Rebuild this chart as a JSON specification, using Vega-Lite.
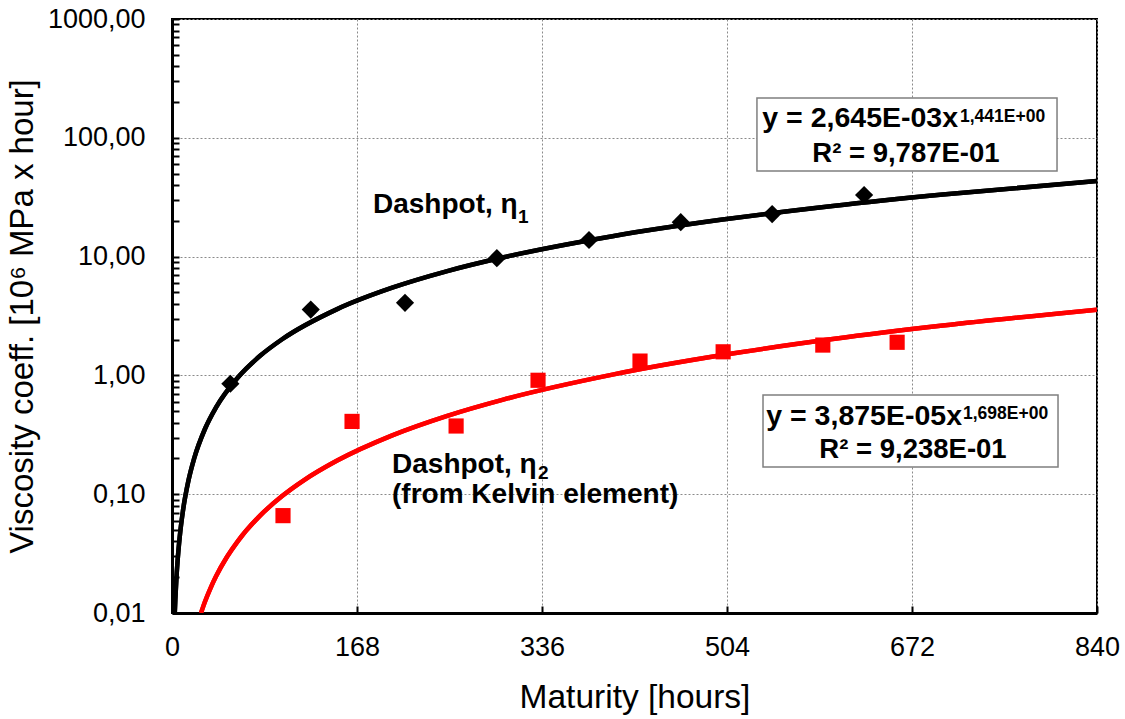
{
  "$schema": "https://vega.github.io/schema/vega-lite/v6.json",
  "autosize": "none",
  "width": 925,
  "height": 594,
  "padding": {"left": 172, "top": 19, "right": 28, "bottom": 106},
  "background": "white",
  "config": {
    "font": "Liberation Sans",
    "view": {"stroke": "black", "strokeWidth": 2},
    "axis": {"labelColor": "black", "titleColor": "black", "labelFont": "Liberation Sans", "titleFont": "Liberation Sans",
      "grid": true, "gridColor": "#8a8a8a", "gridDash": [2, 2], "gridWidth": 1, "ticks": true, "tickSize": -7, "tickWidth": 2, "tickColor": "black",
      "domain": true, "domainColor": "black", "domainWidth": 3, "labelFontSize": 27, "titleFontWeight": "normal", "labelOverlap": false, "labelBound": false},
    "axisX": {"labelPadding": 28, "labelFlush": false, "titleFontSize": 33.5, "titlePadding": 21},
    "axisY": {"labelPadding": 34, "titleFontSize": 33, "titlePadding": 8}
  },
  "datasets": {
    "eta1pts": [
      {"x": 53, "y": 0.85}, {"x": 126, "y": 3.58}, {"x": 211.6, "y": 4.08}, {"x": 295, "y": 9.7},
      {"x": 378.7, "y": 13.8}, {"x": 462, "y": 19.5}, {"x": 545, "y": 22.8}, {"x": 628.5, "y": 33}
    ],
    "eta2pts": [
      {"x": 100.8, "y": 0.066}, {"x": 163.5, "y": 0.41}, {"x": 258, "y": 0.375}, {"x": 332.4, "y": 0.91},
      {"x": 425, "y": 1.32}, {"x": 500.5, "y": 1.58}, {"x": 591, "y": 1.8}, {"x": 658.5, "y": 1.9}
    ],
    "fit": [
      {"s": "eta1", "x": 2.52, "y": 0.01}, {"s": "eta1", "x": 3, "y": 0.01288}, {"s": "eta1", "x": 4, "y": 0.0195},
      {"s": "eta1", "x": 5, "y": 0.0269}, {"s": "eta1", "x": 7, "y": 0.04367}, {"s": "eta1", "x": 10, "y": 0.07302},
      {"s": "eta1", "x": 15, "y": 0.131}, {"s": "eta1", "x": 20, "y": 0.1983}, {"s": "eta1", "x": 30, "y": 0.3556},
      {"s": "eta1", "x": 40, "y": 0.5383}, {"s": "eta1", "x": 60, "y": 0.9655}, {"s": "eta1", "x": 80, "y": 1.4617},
      {"s": "eta1", "x": 100, "y": 2.0157}, {"s": "eta1", "x": 150, "y": 3.615}, {"s": "eta1", "x": 200, "y": 5.472},
      {"s": "eta1", "x": 250, "y": 7.548}, {"s": "eta1", "x": 300, "y": 9.817}, {"s": "eta1", "x": 400, "y": 14.86},
      {"s": "eta1", "x": 500, "y": 20.49}, {"s": "eta1", "x": 600, "y": 26.66}, {"s": "eta1", "x": 700, "y": 33.28},
      {"s": "eta1", "x": 840, "y": 43.28},
      {"s": "eta2", "x": 26.33, "y": 0.01}, {"s": "eta2", "x": 28, "y": 0.0111}, {"s": "eta2", "x": 30, "y": 0.01249},
      {"s": "eta2", "x": 35, "y": 0.01622}, {"s": "eta2", "x": 40, "y": 0.02035}, {"s": "eta2", "x": 50, "y": 0.02972},
      {"s": "eta2", "x": 60, "y": 0.04051}, {"s": "eta2", "x": 80, "y": 0.06603}, {"s": "eta2", "x": 100, "y": 0.09644},
      {"s": "eta2", "x": 120, "y": 0.1315}, {"s": "eta2", "x": 150, "y": 0.192}, {"s": "eta2", "x": 200, "y": 0.313},
      {"s": "eta2", "x": 250, "y": 0.4571}, {"s": "eta2", "x": 300, "y": 0.623}, {"s": "eta2", "x": 400, "y": 1.0153},
      {"s": "eta2", "x": 500, "y": 1.4829}, {"s": "eta2", "x": 600, "y": 2.021}, {"s": "eta2", "x": 700, "y": 2.626},
      {"s": "eta2", "x": 840, "y": 3.578}
    ],
    "boxes": [
      {"x": 531.2, "x2": 803.7, "y": 216.3, "y2": 52.55},
      {"x": 536.7, "x2": 804.6, "y": 0.684, "y2": 0.1694}
    ],
    "leftLabels": [
      {"t": "Dashpot, η", "x": 182.5, "y": 23.28},
      {"t": "Dashpot, η", "x": 199.8, "y": 0.1509},
      {"t": "(from Kelvin element)", "x": 199.8, "y": 0.0843}
    ],
    "subs": [
      {"t": "1", "x": 314.2, "y": 19.29},
      {"t": "2", "x": 332.4, "y": 0.1343}
    ],
    "eqMain": [
      {"t": "y = 2,645E-03x", "x": 713.8, "y": 123.3},
      {"t": "y = 3,875E-05x", "x": 717.4, "y": 0.3824}
    ],
    "eqSup": [
      {"t": "1,441E+00", "x": 715.6, "y": 135.8},
      {"t": "1,698E+00", "x": 718.3, "y": 0.4295}
    ],
    "r2": [
      {"t": "R² = 9,787E-01", "x": 666.5, "y": 62.57},
      {"t": "R² = 9,238E-01", "x": 672.9, "y": 0.2018}
    ]
  },
  "layer": [
    {
      "data": {"name": "fit"},
      "mark": {"type": "line", "strokeWidth": 4.5, "interpolate": "monotone", "clip": true},
      "encoding": {
        "x": {"field": "x", "type": "quantitative", "scale": {"domain": [0, 840], "nice": false, "zero": false}, "title": "Maturity [hours]",
          "axis": {"values": [0, 168, 336, 504, 672, 840], "labelOverlap": false}},
        "y": {"field": "y", "type": "quantitative", "scale": {"type": "log", "domain": [0.01, 1000], "nice": false}, "title": "Viscosity coeff. [10⁶ MPa x hour]",
          "axis": {"values": [0.01, 0.02, 0.03, 0.04, 0.05, 0.06, 0.07, 0.08, 0.09, 0.1, 0.2, 0.3, 0.4, 0.5, 0.6, 0.7, 0.8, 0.9, 1, 2, 3, 4, 5, 6, 7, 8, 9, 10, 20, 30, 40, 50, 60, 70, 80, 90, 100, 200, 300, 400, 500, 600, 700, 800, 900, 1000],
            "labelOverlap": false,
            "labelExpr": "abs(log(datum.value) / LN10 - round(log(datum.value) / LN10)) < 0.000001 ? replace(format(datum.value, '.2f'), '.', ',') : ''",
            "gridOpacity": {"condition": {"test": "abs(log(datum.value) / LN10 - round(log(datum.value) / LN10)) < 0.000001", "value": 1}, "value": 0}}},
        "color": {"field": "s", "type": "nominal", "scale": {"domain": ["eta1", "eta2"], "range": ["#000000", "#ff0000"]}, "legend": null}
      }
    },
    {
      "data": {"name": "boxes"},
      "mark": {"type": "rect", "fill": "white", "stroke": "#7f7f7f", "strokeWidth": 1.5},
      "encoding": {
        "x": {"field": "x", "type": "quantitative"},
        "x2": {"field": "x2"},
        "y": {"field": "y", "type": "quantitative"},
        "y2": {"field": "y2"}
      }
    },
    {
      "data": {"name": "fit"},
      "mark": {"type": "line", "strokeWidth": 4.5, "interpolate": "monotone", "clip": true},
      "encoding": {
        "x": {"field": "x", "type": "quantitative"},
        "y": {"field": "y", "type": "quantitative"},
        "color": {"field": "s", "type": "nominal", "legend": null}
      }
    },
    {
      "data": {"name": "eta1pts"},
      "mark": {"type": "point", "shape": "diamond", "filled": true, "color": "black", "size": 330, "opacity": 1},
      "encoding": {
        "x": {"field": "x", "type": "quantitative"},
        "y": {"field": "y", "type": "quantitative"}
      }
    },
    {
      "data": {"name": "eta2pts"},
      "mark": {"type": "point", "shape": "square", "filled": true, "color": "#ff0000", "size": 230, "opacity": 1},
      "encoding": {
        "x": {"field": "x", "type": "quantitative"},
        "y": {"field": "y", "type": "quantitative"}
      }
    },
    {
      "data": {"name": "leftLabels"},
      "mark": {"type": "text", "align": "left", "baseline": "alphabetic", "fontSize": 28, "fontWeight": "bold", "color": "black"},
      "encoding": {
        "x": {"field": "x", "type": "quantitative"},
        "y": {"field": "y", "type": "quantitative"},
        "text": {"field": "t"}
      }
    },
    {
      "data": {"name": "subs"},
      "mark": {"type": "text", "align": "left", "baseline": "alphabetic", "fontSize": 19, "fontWeight": "bold", "color": "black"},
      "encoding": {
        "x": {"field": "x", "type": "quantitative"},
        "y": {"field": "y", "type": "quantitative"},
        "text": {"field": "t"}
      }
    },
    {
      "data": {"name": "eqMain"},
      "mark": {"type": "text", "align": "right", "baseline": "alphabetic", "fontSize": 28.5, "fontWeight": "bold", "color": "black"},
      "encoding": {
        "x": {"field": "x", "type": "quantitative"},
        "y": {"field": "y", "type": "quantitative"},
        "text": {"field": "t"}
      }
    },
    {
      "data": {"name": "eqSup"},
      "mark": {"type": "text", "align": "left", "baseline": "alphabetic", "fontSize": 17.5, "fontWeight": "bold", "color": "black"},
      "encoding": {
        "x": {"field": "x", "type": "quantitative"},
        "y": {"field": "y", "type": "quantitative"},
        "text": {"field": "t"}
      }
    },
    {
      "data": {"name": "r2"},
      "mark": {"type": "text", "align": "center", "baseline": "alphabetic", "fontSize": 27.5, "fontWeight": "bold", "color": "black"},
      "encoding": {
        "x": {"field": "x", "type": "quantitative"},
        "y": {"field": "y", "type": "quantitative"},
        "text": {"field": "t"}
      }
    }
  ]
}
